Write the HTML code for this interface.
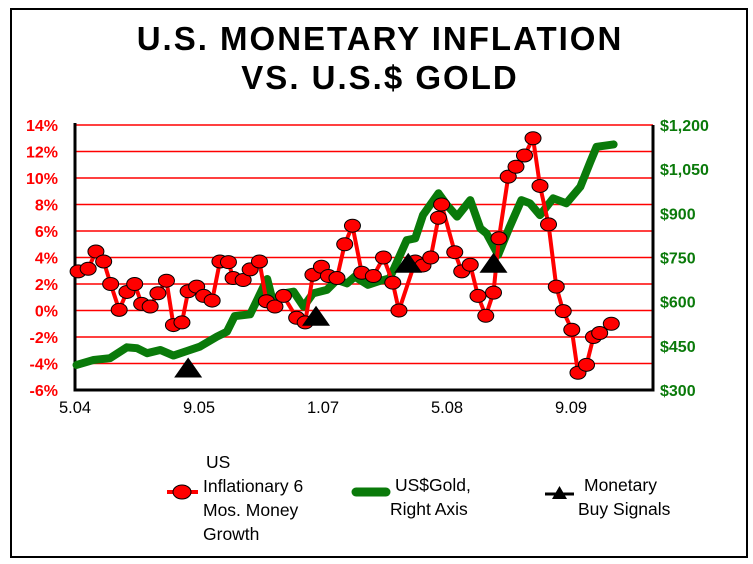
<!DOCTYPE html>
<html><head><meta charset="utf-8"><style>
body{margin:0;background:#fff;}
svg{display:block;font-family:"Liberation Sans",Arial,sans-serif;}
</style></head><body>
<svg id="chart" width="753" height="564" viewBox="0 0 753 564">
<rect x="11" y="9" width="736" height="548" fill="#fff" stroke="#000" stroke-width="2"/>
<text x="380" y="50" text-anchor="middle" font-size="33" font-weight="bold" letter-spacing="2">U.S. MONETARY INFLATION</text>
<text x="380" y="89" text-anchor="middle" font-size="33" font-weight="bold" letter-spacing="2">VS. U.S.$ GOLD</text>
<g id="grid"></g><g id="axes"></g><g id="gold"></g><g id="red"></g><g id="sig"></g>
<g font-size="17.5">
<line x1="167" y1="492" x2="198" y2="492" stroke="#f00" stroke-width="4"/>
<ellipse cx="182" cy="492" rx="9" ry="7" fill="#f00" stroke="#000"/>
<text x="205" y="468"><tspan x="206">US</tspan><tspan x="203" dy="24">Inflationary 6</tspan><tspan x="203" dy="24">Mos. Money</tspan><tspan x="203" dy="24">Growth</tspan></text>
<line x1="356" y1="492" x2="386" y2="492" stroke="#0a7a0a" stroke-width="9" stroke-linecap="round"/>
<text x="395" y="491"><tspan x="395">US$Gold,</tspan><tspan x="390" dy="24">Right Axis</tspan></text>
<line x1="545" y1="494" x2="574" y2="494" stroke="#000" stroke-width="3"/>
<polygon points="552,499 567,499 559.5,486" fill="#000"/>
<text x="583" y="491"><tspan x="584">Monetary</tspan><tspan x="578" dy="24">Buy Signals</tspan></text>
</g>
</svg>
<script>
const redMonths=[0.4,1.7,2.7,3.7,4.6,5.7,6.7,7.7,8.6,9.7,10.7,11.8,12.7,13.8,14.6,15.7,16.6,17.7,18.7,19.8,20.4,21.7,22.6,23.8,24.7,25.8,26.9,28.6,29.7,30.7,31.8,32.7,33.8,34.8,35.8,37,38.5,39.8,41,41.8,43.9,44.9,45.9,46.9,47.3,49,49.9,51,52,53,54,54.7,55.9,56.9,58,59.1,60,61.1,62.1,63,64.1,64.9,66,66.9,67.7,69.2];
const redValues=[2.95,3.15,4.45,3.7,2.0,0.05,1.4,2.0,0.5,0.3,1.3,2.25,-1.1,-0.9,1.45,1.8,1.1,0.75,3.7,3.65,2.45,2.3,3.1,3.7,0.7,0.3,1.1,-0.55,-0.9,2.7,3.3,2.6,2.45,5.0,6.4,2.85,2.6,4.0,2.1,0.0,3.7,3.4,4.0,7.0,8.0,4.4,2.95,3.45,1.1,-0.4,1.35,5.45,10.1,10.85,11.7,13.0,9.4,6.5,1.8,-0.05,-1.45,-4.7,-4.1,-2.0,-1.7,-1.0];
const goldMonths=[0.2,2.4,4.5,6.7,8,9.3,11,12.7,14.4,16.1,18.3,19.6,20.6,22.6,23.4,24.8,25.6,26.9,28.2,29.5,30.7,32.5,33.8,35.1,36.1,37.8,39.4,40.6,42.8,43.9,44.9,46.9,48,49.3,51,52.3,53.1,54.6,56.1,57.6,58.7,60,61.7,63.4,65.2,66.5,67.3,69.5];
const goldValues=[385,402,408,445,442,425,436,417,432,447,481,498,551,557,600,677,594,628,634,583,628,640,674,662,685,657,671,679,809,815,894,968,928,889,945,849,832,759,855,945,934,894,951,934,990,1075,1126,1134];
const signalMonths=[14.6,31.1,43,54];
const signalValues=[-4.3,-0.4,3.6,3.6];
const leftTicks=[14,12,10,8,6,4,2,0,-2,-4,-6];
const rightTicks=[1200,1050,900,750,600,450,300];
const xTickMonths=[0,16,32,48,64];
const xTickLabels=["5.04","9.05","1.07","5.08","9.09"];

const X0=75,X1=653,Y0=125,Y1=390;
const xs=m=>X0+m*7.75;
const yl=v=>Y1-(v+6)/20*(Y1-Y0);
const yr=v=>Y1-(v-300)/900*(Y1-Y0);
const NS="http://www.w3.org/2000/svg";
function mk(tag,attrs,parent){const e=document.createElementNS(NS,tag);for(const k in attrs)e.setAttribute(k,attrs[k]);document.getElementById(parent).appendChild(e);return e;}

leftTicks.forEach(t=>{
  const y=yl(t);
  const g=mk('line',{x1:X0,x2:X1,y1:y,y2:y,stroke:'#f00','stroke-width':t===-6?0:1.6},'grid');
  
  
  const l=mk('text',{x:58,y:y+6,'text-anchor':'end','font-size':16,'font-weight':'bold',fill:'#f00'},'axes');
  l.textContent=t+'%';
  
  
});
rightTicks.forEach(t=>{
  const l=mk('text',{x:660,y:yr(t)+6,'font-size':16,'font-weight':'bold',fill:'#0a7a0a'},'axes');
  l.textContent='$'+t.toLocaleString('en-US');
  
  
});
xTickMonths.forEach((m,i)=>{
  const l=mk('text',{x:xs(m),y:413,'text-anchor':'middle','font-size':16.5,fill:'#000'},'axes');
  l.textContent=xTickLabels[i];
  
  
});
const ax=mk('path',{d:`M${X0},${Y0-2}V${Y1}H${X1}V${Y0}`,fill:'none',stroke:'#000','stroke-width':3},'axes');



const gp=mk('polyline',{points:goldMonths.map((m,i)=>xs(m)+','+yr(goldValues[i])).join(' '),fill:'none',stroke:'#0a7a0a','stroke-width':8,'stroke-linejoin':'round','stroke-linecap':'round'},'gold');



const rp=mk('polyline',{points:redMonths.map((m,i)=>xs(m)+','+yl(redValues[i])).join(' '),fill:'none',stroke:'#f00','stroke-width':4},'red');


redMonths.forEach((m,i)=>{
  const c=mk('ellipse',{cx:xs(m),cy:yl(redValues[i]),rx:8,ry:6.5,fill:'#f00',stroke:'#000','stroke-width':1},'red');
  
  
});
signalMonths.forEach((m,i)=>{
  const x=xs(m),y=yl(signalValues[i]);
  const p=mk('polygon',{points:`${x-14},${y+10} ${x+14},${y+10} ${x},${y-10}`,fill:'#000'},'sig');
  
  
});
</script>
</body></html>
